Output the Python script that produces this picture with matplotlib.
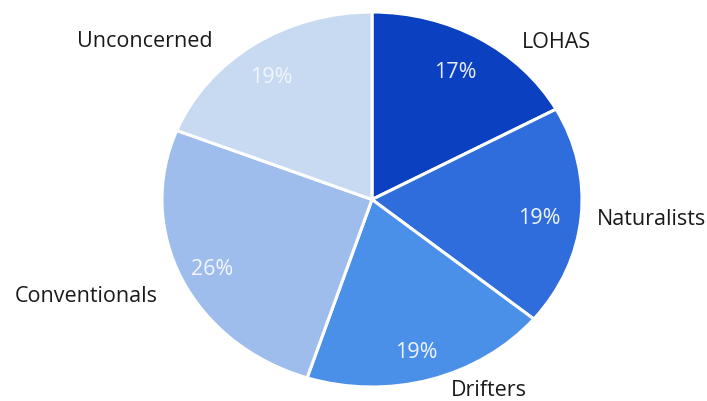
import matplotlib.pyplot as plt
import matplotlib.transforms as mtransforms

segments = ['LOHAS', 'Naturalists', 'Drifters', 'Conventionals', 'Unconcerned']
shares = [17, 19, 19, 26, 19]
colors = ['#0b40c0', '#2e6ddb', '#4a90e9', '#9ebcec', '#c8daf2']
pct_colors = ['#e8eefa', '#f0f4fc', '#f0f4fc', '#f4f7fd', '#f1f5fc']

# outside label spots (pie data units, pie radius = 1)
label_pos = [(0.88, 0.835), (1.33, -0.105), (0.555, -1.02), (-1.36, -0.52), (-1.08, 0.84)]

plt.rcParams['font.family'] = ['Open Sans', 'DejaVu Sans']

fig = plt.figure(figsize=(7.07, 4.01), dpi=100)
ax = fig.add_axes([162 / 707, 14 / 401, 420 / 707, 375 / 401])

wedges, texts, autotexts = ax.pie(
    shares, colors=colors, startangle=90, counterclock=False,
    autopct='%d%%', pctdistance=0.82,
    wedgeprops=dict(edgecolor='white', linewidth=2.2),
    textprops=dict(fontsize=15.5))
# percentages sit a little lower-left than the default spot
nudge = mtransforms.ScaledTranslation(-4 / 100, -5 / 100, fig.dpi_scale_trans)
for t, c in zip(autotexts, pct_colors):
    t.set_color(c)
    t.set_transform(t.get_transform() + nudge)

for name, (x, y) in zip(segments, label_pos):
    ax.text(x, y, name, ha='center', va='center', fontsize=15.5, color='#1a1a1a', clip_on=False)

ax.set_aspect('auto')
ax.set_xlim(-1, 1)
ax.set_ylim(-1, 1)
ax.axis('off')

fig.savefig('out.png', dpi=100)
